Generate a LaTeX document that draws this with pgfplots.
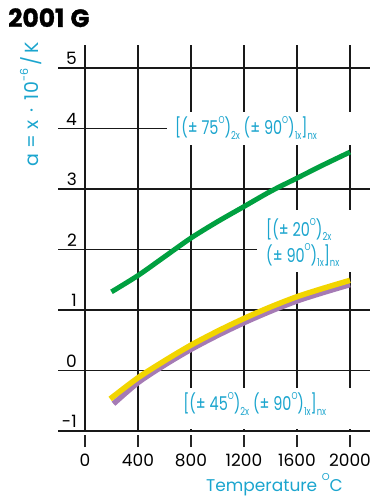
\documentclass[border=0pt]{standalone}
\usepackage{fontspec}
\setmainfont{Poppins}
\newfontfamily\ann[FakeStretch=0.76]{Poppins}
\usepackage{pgfplots}
\pgfplotsset{compat=1.18}
\definecolor{cy}{RGB}{27,165,206}
\definecolor{gr}{RGB}{0,160,64}
\definecolor{ye}{RGB}{242,213,0}
\definecolor{pu}{RGB}{165,123,181}
\newcommand\dg{\raisebox{0.6em}{\fontsize{10}{10}\selectfont O}}
\newcommand\sub[1]{\raisebox{-0.22em}{\fontsize{11}{11}\selectfont #1}}
\begin{document}
\begin{tikzpicture}[x=1pt,y=1pt]
\useasboundingbox (-58,-66) rectangle (312,431);
\begin{axis}[
 at={(0,0)}, anchor=south west,
 scale only axis, width=312pt, height=386pt,
 xmin=-203.8, xmax=2151, ymin=-1, ymax=5.38,
 clip=false,
 axis line style={draw=none},
 xtick={0,400,...,2000}, xticklabels={0,400,800,1200,1600,2000},
 ytick={-1,0,...,5}, yticklabels={-1,0,1,2,3,4,5},
 grid=major,
 major grid style={black!90, line width=1.3pt},
 xtick pos=bottom, ytick pos=left,
 tick align=inside,
 major tick length=12pt,
 xtick style={black!85, line width=1.3pt, yshift=-16pt},
 ytick style={draw=none},
 xticklabel style={font=\fontsize{17}{20}\selectfont, yshift=-19pt},
 yticklabel style={font=\fontsize{17}{20}\selectfont, anchor=south east, xshift=22pt, inner sep=3pt},
]
% white boxes behind labels
\fill[white] (axis cs:619,3.727) rectangle (axis cs:2170,4.273);
\fill[white] (axis cs:1298,1.628) rectangle (axis cs:2170,2.653);
\fill[white] (axis cs:717,-0.967) rectangle (axis cs:2170,-0.289);
\node[anchor=base west, text=cy, font=\ann\fontsize{19}{20}\selectfont, inner sep=0pt] at (axis cs:679,3.893)
 {[(± 75\dg)\sub{2x} (± 90\dg)\sub{1x}]\sub{nx}};
\node[anchor=base west, text=cy, font=\ann\fontsize{19}{20}\selectfont, inner sep=0pt] at (axis cs:1366,2.21)
 {[(± 20\dg)\sub{2x}};
\node[anchor=base west, text=cy, font=\ann\fontsize{19}{20}\selectfont, inner sep=0pt] at (axis cs:1366,1.793)
 {(± 90\dg)\sub{1x}]\sub{nx}};
\node[anchor=base west, text=cy, font=\ann\fontsize{19}{20}\selectfont, inner sep=0pt] at (axis cs:740,-0.669)
 {[(± 45\dg)\sub{2x} (± 90\dg)\sub{1x}]\sub{nx}};
% curves
\addplot[pu, line width=5.5pt, smooth] coordinates {
 (215,-0.55) (400,-0.20) (600,0.09) (800,0.35) (1000,0.58) (1200,0.79)
 (1400,0.98) (1600,1.15) (1800,1.29) (2000,1.42)};
\addplot[ye, line width=5.5pt, smooth] coordinates {
 (190,-0.47) (400,-0.12) (600,0.16) (800,0.42) (1000,0.65) (1200,0.86)
 (1400,1.05) (1600,1.22) (1800,1.36) (2000,1.49)};
\addplot[gr, line width=5pt, smooth] coordinates {
 (200,1.30) (400,1.57) (600,1.88) (800,2.19) (1000,2.46) (1200,2.71)
 (1400,2.96) (1600,3.18) (1800,3.40) (2000,3.61)};
\end{axis}
\node[anchor=base west, font=\fontsize{25}{26}\selectfont\bfseries\addfontfeatures{FakeBold=1.2}, inner sep=0pt] at (-50,404) {2001\hspace{6pt}G};
\node[rotate=90, anchor=east, text=cy, font=\fontsize{19}{19}\selectfont, inner sep=0pt] at (-27,389)
 {a = x \,·\, 10\raisebox{0.55em}{\fontsize{11}{11}\selectfont -6}\,/\,K};
\node[anchor=base east, text=cy, font=\fontsize{17}{20}\selectfont, inner sep=0pt] at (285,-60)
 {Temperature \dg C};
\end{tikzpicture}
\end{document}
